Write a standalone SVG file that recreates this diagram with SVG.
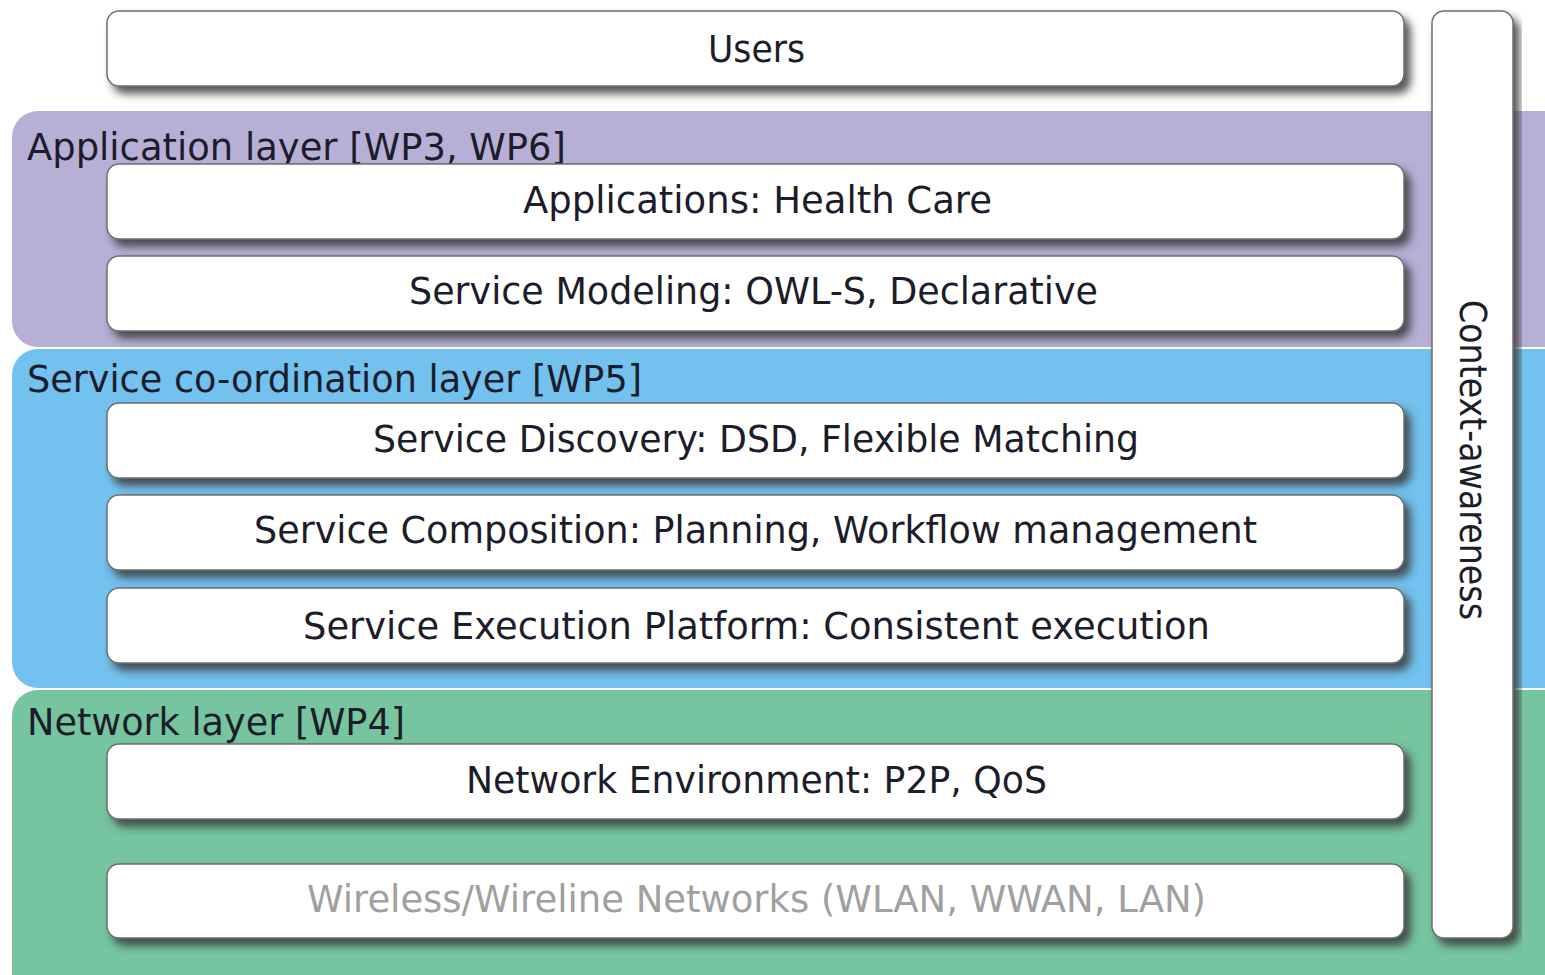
<svg xmlns="http://www.w3.org/2000/svg" width="1545" height="975" viewBox="0 0 1545 975">
<defs>
<filter id="sh" x="-5%" y="-20%" width="115%" height="160%">
<feDropShadow dx="6" dy="7" stdDeviation="4" flood-color="#3a3a3a" flood-opacity="0.85"/>
</filter>
<style>
.box{fill:#fff;stroke:#6e6e6e;stroke-width:1.5;filter:url(#sh)}
.t{font-family:"DejaVu Sans","Liberation Sans",sans-serif;font-size:37px;fill:#1c1c2a}
.c{text-anchor:start}
.lab{font-family:"DejaVu Sans","Liberation Sans",sans-serif;font-size:37px;fill:#1c1c2a}
</style>
</defs>
<rect width="1545" height="975" fill="#fff"/>
<g id="app-layer">
<rect x="12" y="111" width="1560" height="236" rx="26" fill="#b8afd6"/>
<text class="lab" x="27" y="160" textLength="539" lengthAdjust="spacingAndGlyphs">Application layer [WP3, WP6]</text>
</g>
<g id="svc-layer">
<rect x="12" y="349" width="1560" height="339" rx="26" fill="#72c1ee"/>
<text class="lab" x="27" y="392" textLength="615" lengthAdjust="spacingAndGlyphs">Service co-ordination layer [WP5]</text>
</g>
<g id="net-layer">
<rect x="12" y="690" width="1560" height="310" rx="26" fill="#76c59e"/>
<text class="lab" x="27" y="735" textLength="378" lengthAdjust="spacingAndGlyphs">Network layer [WP4]</text>
</g>
<g id="users">
<rect class="box" x="107" y="11" width="1297" height="75" rx="12"/>
<text class="t" x="708" y="62" textLength="97" lengthAdjust="spacingAndGlyphs">Users</text>
</g>
<g id="context">
<rect class="box" x="1432" y="11" width="81" height="927" rx="12"/>
<text class="t" transform="translate(1460,460) rotate(90)" text-anchor="middle" x="0" y="0" textLength="320" lengthAdjust="spacingAndGlyphs">Context-awareness</text>
</g>
<g id="apps">
<rect class="box" x="107" y="164" width="1297" height="75" rx="12"/>
<text class="t" x="523" y="213" textLength="469" lengthAdjust="spacingAndGlyphs">Applications: Health Care</text>
</g>
<g id="modeling">
<rect class="box" x="107" y="256" width="1297" height="75" rx="12"/>
<text class="t" x="409" y="304" textLength="689" lengthAdjust="spacingAndGlyphs">Service Modeling: OWL-S, Declarative</text>
</g>
<g id="discovery">
<rect class="box" x="107" y="403" width="1297" height="75" rx="12"/>
<text class="t" x="373" y="452" textLength="766" lengthAdjust="spacingAndGlyphs">Service Discovery: DSD, Flexible Matching</text>
</g>
<g id="composition">
<rect class="box" x="107" y="495" width="1297" height="75" rx="12"/>
<text class="t" x="254" y="543" textLength="1003" lengthAdjust="spacingAndGlyphs">Service Composition: Planning, Workflow management</text>
</g>
<g id="execution">
<rect class="box" x="107" y="588" width="1297" height="75" rx="12"/>
<text class="t" x="303" y="639" textLength="907" lengthAdjust="spacingAndGlyphs">Service Execution Platform: Consistent execution</text>
</g>
<g id="netenv">
<rect class="box" x="107" y="744" width="1297" height="75" rx="12"/>
<text class="t" x="466" y="793" textLength="581" lengthAdjust="spacingAndGlyphs">Network Environment: P2P, QoS</text>
</g>
<g id="wireless">
<rect class="box" x="107" y="864" width="1297" height="74" rx="12"/>
<text class="t" x="307" y="912" textLength="899" lengthAdjust="spacingAndGlyphs" style="fill:#a0a0a0">Wireless/Wireline Networks (WLAN, WWAN, LAN)</text>
</g>
<g id="connectors"></g>
</svg>
